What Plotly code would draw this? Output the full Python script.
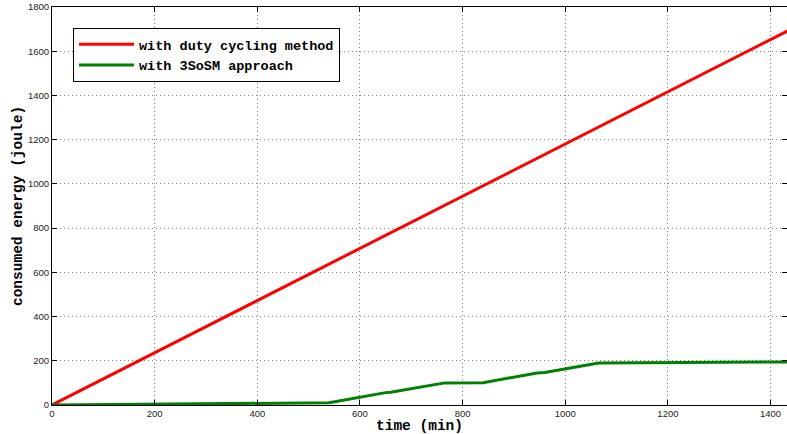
import plotly.graph_objects as go

# data
red_x = [0, 1440]
red_y = [0, 1700]
green_x = [0, 540, 650, 660, 765, 840, 945, 960, 1065, 1440]
green_y = [0, 10, 56, 58, 100, 101, 145, 147, 190, 195]
x_ticks = [0, 200, 400, 600, 800, 1000, 1200, 1400]
y_ticks = [0, 200, 400, 600, 800, 1000, 1200, 1400, 1600, 1800]

fig = go.Figure()
fig.add_trace(go.Scatter(x=red_x, y=red_y, mode="lines", name="with duty cycling method",
                         line=dict(color="#ff0000", width=3)))
fig.add_trace(go.Scatter(x=green_x, y=green_y, mode="lines", name="with 3SoSM approach",
                         line=dict(color="#008000", width=3)))

axis_common = dict(
    showline=True, linecolor="black", linewidth=1, mirror="ticks",
    ticks="inside", ticklen=5, tickcolor="black",
    showgrid=True, gridcolor="#888888", griddash="1px,3px", gridwidth=1,
    zeroline=False, automargin=False,
    tickfont=dict(family="Liberation Sans, Arial, sans-serif", size=9.5, color="#222222"),
)

title_font = dict(family="Liberation Mono, Courier New, monospace", size=14.5, color="black", weight="bold")

fig.update_layout(
    width=787, height=434,
    margin=dict(l=52, r=0, t=7, b=29),
    paper_bgcolor="white", plot_bgcolor="white",
    xaxis=dict(range=[0, 1432], tickvals=x_ticks,
               title=dict(text="time (min)", standoff=0, font=title_font),
               **axis_common),
    yaxis=dict(range=[0, 1800], tickvals=y_ticks,
               title=dict(text="consumed energy (joule)", standoff=1, font=title_font),
               **axis_common),
    legend=dict(x=0.0286, y=0.947, xanchor="left", yanchor="top",
                bgcolor="white", bordercolor="black", borderwidth=1,
                font=dict(family="Liberation Mono, Courier New, monospace", size=13.5, color="black", weight="bold"),
                tracegroupgap=0, itemwidth=55),
    showlegend=True,
)

fig.write_html("out.html", config={"displayModeBar": False},
               post_script="document.body.style.margin='0px';document.body.style.overflow='hidden';")
